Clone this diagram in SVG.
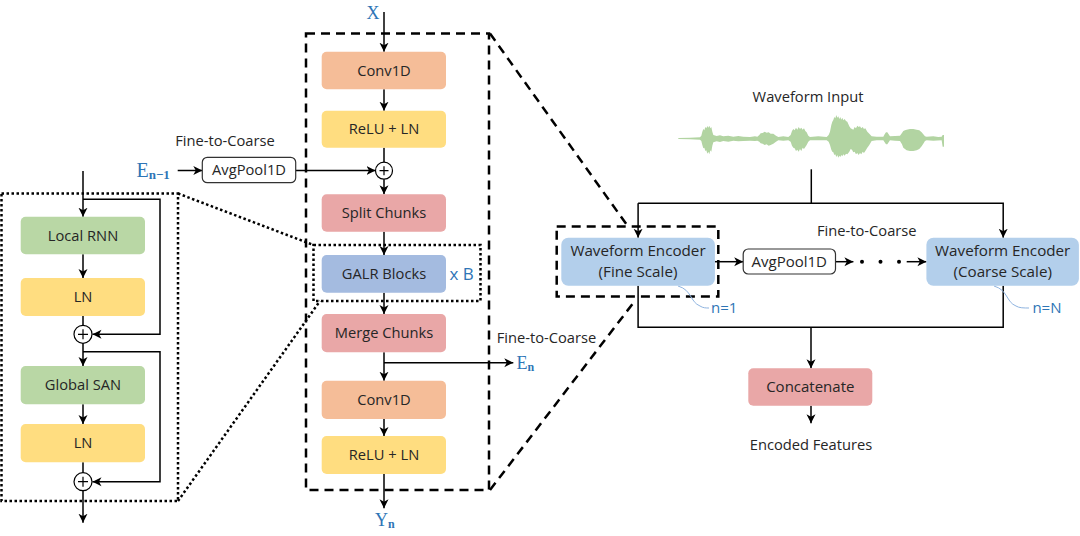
<svg xmlns="http://www.w3.org/2000/svg" width="1080" height="536" viewBox="0 0 1080 536">
<style>
.t{font-family:"Open Sans","Noto Sans",sans-serif;font-size:14.7px;fill:#262626;text-anchor:middle}
.tl{font-family:"Open Sans","Noto Sans",sans-serif;font-size:14.7px;fill:#262626}
.b{font-family:"Open Sans","Noto Sans",sans-serif;font-size:15px;fill:#2e75b6}
.m{font-family:"Liberation Serif","DejaVu Serif",serif;fill:#2e75b6}
.ln{stroke:#000;stroke-width:1.5;fill:none}
.a{marker-end:url(#ah)}
.dash{stroke:#000;stroke-width:2.5;fill:none;stroke-dasharray:9 6}
.dot{stroke:#000;stroke-width:2.5;fill:none;stroke-dasharray:2.5 2.5}
.green{fill:#b9d7a5}.yellow{fill:#ffdd80}.orange{fill:#f5bd98}.pink{fill:#e9a7a7}.galr{fill:#a4bbe0}.enc{fill:#b3cfeb}
.pool{fill:#fff;stroke:#333;stroke-width:1.2}
.plus{fill:#fff;stroke:#000;stroke-width:1.2}
.cv{stroke:#8fb4e0;stroke-width:1;fill:none}
</style>
<defs>
<marker id="ah" markerUnits="userSpaceOnUse" markerWidth="10" markerHeight="10" viewBox="0 0 10 10" refX="9" refY="5" orient="auto">
<path d="M0,0.5 L9,5 L0,9.5 L2.5,5 Z" fill="#000"/>
</marker>
</defs>

<!-- waveform -->
<g id="waveform" transform="translate(670,105) scale(0.3333)">
<path fill="#b2d4a2" d="M25,99 L60,98 90,97 94,92 97,80 100,72 103,76 106,66 109,70 112,63 115,68 118,62 121,70 124,66 127,80 130,90 140,93 150,91 160,94 175,92 190,95 205,93 220,95 240,96 255,94 262,95 268,90 272,85 278,84 284,80 290,83 296,82 302,86 310,86 318,92 325,96 340,94 355,96 362,90 366,78 370,72 374,76 378,68 382,74 386,66 390,72 394,68 398,74 402,70 406,78 410,82 415,92 420,96 445,94 470,96 476,90 480,80 484,60 487,50 490,45 493,36 496,40 499,30 502,38 505,34 508,42 511,36 514,44 517,38 520,46 524,42 528,48 532,50 538,64 542,70 546,72 550,74 554,66 558,70 562,62 566,66 570,64 574,70 578,66 582,72 586,70 592,80 598,86 605,94 620,95 640,95 644,88 648,82 652,82 656,88 660,94 675,93 690,92 696,84 700,78 705,76 710,74 720,72 730,72 740,74 748,76 755,82 760,88 765,94 770,95 790,94 805,96 815,95 818,90 822,90 822,125 818,125 815,106 790,107 770,106 765,108 760,116 755,124 748,132 740,136 730,138 720,138 710,136 705,132 700,128 696,118 690,108 675,107 660,106 656,112 652,118 648,118 644,112 640,106 620,106 605,108 598,120 592,128 586,138 582,144 578,140 574,148 570,144 566,150 562,144 558,148 554,140 550,142 546,134 542,132 538,140 532,148 528,146 524,152 520,148 517,154 514,150 511,156 508,152 505,158 502,150 499,156 496,148 493,150 490,142 487,140 484,134 480,120 476,110 470,106 445,106 420,106 415,110 410,120 406,126 402,132 398,128 394,138 390,132 386,140 382,134 378,138 374,130 370,128 366,122 362,110 355,106 340,107 325,106 318,110 310,116 302,120 296,122 290,118 284,120 278,116 272,115 268,110 262,107 255,108 240,107 220,108 205,109 190,107 175,110 160,108 150,111 140,109 130,112 127,122 124,140 121,136 118,148 115,140 112,146 109,136 106,138 103,128 100,130 97,120 94,108 90,104 60,103 25,102 Z"/>
</g>

<!-- containers -->
<g id="left-detail-box"><rect class="dot" x="1.5" y="193.5" width="176.5" height="307.5"/></g>
<g id="galr-box"><rect class="dot" x="313.5" y="245" width="167" height="56"/></g>
<g id="middle-detail-box"><rect class="dash" x="306" y="33.5" width="183" height="456.5"/></g>
<g id="fine-box"><rect class="dash" x="556.7" y="226.5" width="161.6" height="70"/></g>

<g id="zoom-lines">
<line class="dot" x1="178" y1="193.5" x2="313.5" y2="245"/>
<line class="dot" x1="178" y1="501" x2="320" y2="301"/>
<line class="dash" x1="490" y1="33.5" x2="628" y2="226.5"/>
<line class="dash" x1="490" y1="490" x2="634" y2="302"/>
</g>

<!-- connectors -->
<g id="connectors">
<line class="ln a" x1="83" y1="171" x2="83" y2="216.7"/>
<polyline class="ln a" points="83,199.3 160,199.3 160,334.3 92.5,334.3"/>
<line class="ln a" x1="83" y1="254.3" x2="83" y2="278"/>
<line class="ln" x1="83" y1="316" x2="83" y2="325.3"/>
<line class="ln a" x1="83" y1="343.3" x2="83" y2="366"/>
<polyline class="ln a" points="83,351.7 160,351.7 160,481.7 92.5,481.7"/>
<line class="ln a" x1="83" y1="404.3" x2="83" y2="424"/>
<line class="ln" x1="83" y1="462.3" x2="83" y2="472.7"/>
<line class="ln a" x1="83" y1="490.7" x2="83" y2="522.7"/>
<line class="ln a" x1="384" y1="12" x2="384" y2="51.7"/>
<line class="ln a" x1="384" y1="89.3" x2="384" y2="110.7"/>
<line class="ln" x1="384" y1="147.7" x2="384" y2="162.2"/>
<line class="ln a" x1="384" y1="179.2" x2="384" y2="194.3"/>
<line class="ln a" x1="177.7" y1="170.5" x2="202.3" y2="170.5"/>
<line class="ln a" x1="295.7" y1="170.5" x2="375.5" y2="170.5"/>
<line class="ln a" x1="384" y1="231.7" x2="384" y2="255"/>
<line class="ln a" x1="384" y1="292.7" x2="384" y2="314"/>
<line class="ln a" x1="384" y1="352.3" x2="384" y2="380.7"/>
<line class="ln a" x1="384" y1="362.7" x2="513.3" y2="362.7"/>
<line class="ln a" x1="384" y1="419" x2="384" y2="436"/>
<line class="ln a" x1="384" y1="474" x2="384" y2="508.3"/>
<line class="ln" x1="811.3" y1="169.3" x2="811.3" y2="203.3"/>
<polyline class="ln a" points="638.1,203.3 1003.2,203.3 1003.2,237.7"/>
<line class="ln a" x1="638.1" y1="203.3" x2="638.1" y2="237.7"/>
<line class="ln a" x1="714.9" y1="261.7" x2="743.2" y2="261.7"/>
<line class="ln a" x1="835.5" y1="261.7" x2="853.4" y2="261.7"/>
<circle cx="862" cy="261.7" r="2" fill="#000"/>
<circle cx="880.5" cy="261.7" r="2" fill="#000"/>
<circle cx="899" cy="261.7" r="2" fill="#000"/>
<line class="ln a" x1="906.7" y1="261.7" x2="926.4" y2="261.7"/>
<polyline class="ln" points="638.1,285.7 638.1,327.3 1003.2,327.3 1003.2,285.7"/>
<line class="ln a" x1="811" y1="327.3" x2="811" y2="368.3"/>
<line class="ln a" x1="811" y1="405.7" x2="811" y2="423.3"/>
<path class="cv" d="M678,286 C692,290 690,302 700,306 C703,308 706,308 709,308"/>
<path class="cv" d="M994,286 C1008,290 1006,302 1016,306 C1019,308 1024,308 1029,308"/>
</g>

<!-- left nodes -->
<g id="local-rnn"><rect class="green" x="20.7" y="216.7" width="124.3" height="37.6" rx="5"/><text class="t" x="83" y="240.5">Local RNN</text></g>
<g id="ln1"><rect class="yellow" x="20.7" y="278" width="124.3" height="38" rx="5"/><text class="t" x="83" y="302">LN</text></g>
<g id="add1"><circle class="plus" cx="83" cy="334.3" r="9"/><path class="ln" style="stroke-width:1.2" d="M78,334.3 H88 M83,329.3 V339.3"/></g>
<g id="global-san"><rect class="green" x="20.7" y="366" width="124.3" height="38.3" rx="5"/><text class="t" x="83" y="390">Global SAN</text></g>
<g id="ln2"><rect class="yellow" x="20.7" y="424" width="124.3" height="38.3" rx="5"/><text class="t" x="83" y="448">LN</text></g>
<g id="add2"><circle class="plus" cx="83" cy="481.7" r="9"/><path class="ln" style="stroke-width:1.2" d="M78,481.7 H88 M83,476.7 V486.7"/></g>

<!-- middle nodes -->
<g id="x-label"><text class="m" x="366.5" y="18.5" font-size="18">X</text></g>
<g id="conv1"><rect class="orange" x="321.7" y="51.7" width="124.3" height="37.6" rx="5"/><text class="t" x="384" y="75.5">Conv1D</text></g>
<g id="relu1"><rect class="yellow" x="321.7" y="110.7" width="124.3" height="37" rx="5"/><text class="t" x="384" y="134">ReLU + LN</text></g>
<g id="add-mid"><circle class="plus" cx="384" cy="170.7" r="8.5"/><path class="ln" style="stroke-width:1.2" d="M379.5,170.7 H388.5 M384,166.2 V175.2"/></g>
<g id="en-1"><text class="m" x="136.5" y="177" font-size="20">E<tspan font-size="13" font-weight="bold" dy="2">n−1</tspan></text></g>
<g id="fine-to-coarse-1"><text class="t" x="225" y="145.7">Fine-to-Coarse</text></g>
<g id="avgpool1"><rect class="pool" x="202.3" y="157.3" width="93.4" height="25.4" rx="5"/><text class="t" x="249" y="175">AvgPool1D</text></g>
<g id="split"><rect class="pink" x="321.7" y="194.3" width="124.3" height="37.4" rx="5"/><text class="t" x="384" y="218">Split Chunks</text></g>
<g id="galr"><rect class="galr" x="321.7" y="255" width="124.3" height="37.7" rx="5"/><text class="t" x="384" y="279">GALR Blocks</text></g>
<g id="xb"><text class="b" x="461.7" y="280" text-anchor="middle" style="font-size:17px">x B</text></g>
<g id="merge"><rect class="pink" x="321.7" y="314" width="124.3" height="38.3" rx="5"/><text class="t" x="384" y="338">Merge Chunks</text></g>
<g id="fine-to-coarse-2"><text class="tl" x="496.7" y="343">Fine-to-Coarse</text></g>
<g id="en"><text class="m" x="516.5" y="368.5" font-size="18">E<tspan font-size="12" font-weight="bold" dy="2">n</tspan></text></g>
<g id="conv2"><rect class="orange" x="321.7" y="380.7" width="124.3" height="38.3" rx="5"/><text class="t" x="384" y="405">Conv1D</text></g>
<g id="relu2"><rect class="yellow" x="321.7" y="436" width="124.3" height="38" rx="5"/><text class="t" x="384" y="460">ReLU + LN</text></g>
<g id="yn"><text class="m" x="375" y="526" font-size="18">Y<tspan font-size="12" font-weight="bold" dy="2">n</tspan></text></g>

<!-- right nodes -->
<g id="waveform-input"><text class="t" x="808" y="101.7">Waveform Input</text></g>
<g id="fine-encoder"><rect class="enc" x="561.3" y="237.7" width="153.6" height="48" rx="7"/><text class="t" x="638" y="256" style="font-size:15.2px">Waveform Encoder</text><text class="t" x="638" y="276.7" style="font-size:15.2px">(Fine Scale)</text></g>
<g id="fine-to-coarse-3"><text class="t" x="866.8" y="236">Fine-to-Coarse</text></g>
<g id="avgpool2"><rect class="pool" x="743.2" y="249" width="92.3" height="25" rx="5"/><text class="t" x="789.3" y="266.5" style="font-size:15px">AvgPool1D</text></g>
<g id="coarse-encoder"><rect class="enc" x="926.4" y="237.7" width="152.5" height="48" rx="7"/><text class="t" x="1002.7" y="256" style="font-size:15.2px">Waveform Encoder</text><text class="t" x="1002.7" y="276.7" style="font-size:15.2px">(Coarse Scale)</text></g>
<g id="n1"><text class="b" x="711" y="313">n=1</text></g>
<g id="nN"><text class="b" x="1032.4" y="313">n=N</text></g>
<g id="concat"><rect class="pink" x="748.3" y="368.3" width="124" height="37.4" rx="5"/><text class="t" x="810.3" y="392" style="font-size:15px">Concatenate</text></g>
<g id="encoded"><text class="t" x="811" y="450">Encoded Features</text></g>
</svg>
